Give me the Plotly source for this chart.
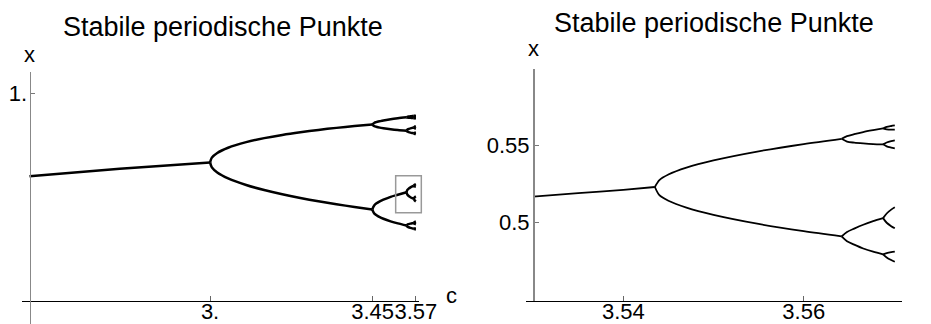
import plotly.graph_objects as go

# ---------------- data ----------------
# Left panel: whole cascade, c in [2.5, 3.57]
L_FIX_C = [2.5, 2.75, 3.0]
L_FIX_X = [0.6, 0.6364, 0.6667]

L_P2_C = [3.0, 3.005, 3.02, 3.05, 3.1, 3.15, 3.2, 3.25, 3.3, 3.35, 3.4, 3.449]
L_P2_X = [
    [0.6667, 0.6899, 0.7125, 0.7377, 0.7646, 0.7840, 0.7995, 0.8124, 0.8236, 0.8334, 0.8422, 0.8499],
    [0.6667, 0.6429, 0.6186, 0.5902, 0.5580, 0.5335, 0.5130, 0.4953, 0.4794, 0.4651, 0.4520, 0.4400],
]

L_P4_C = [3.449, 3.455, 3.46, 3.47, 3.48, 3.5, 3.52, 3.5441]
L_P4_X = [
    [0.8499, 0.8581, 0.8611, 0.8654, 0.8694, 0.8750, 0.8796, 0.8843],
    [0.8499, 0.8417, 0.8389, 0.8346, 0.8317, 0.8269, 0.8230, 0.8195],
    [0.4400, 0.4602, 0.4684, 0.4790, 0.4871, 0.5009, 0.5110, 0.5232],
    [0.4400, 0.4198, 0.4136, 0.4027, 0.3951, 0.3828, 0.3728, 0.3628],
]

L_P8_C = [3.5441, 3.546, 3.55, 3.555, 3.56, 3.5644]
L_P8_X = [
    [0.8843, 0.8863, 0.8878, 0.8891, 0.8901, 0.8908],
    [0.8843, 0.8832, 0.8823, 0.8816, 0.8810, 0.8806],
    [0.8195, 0.8243, 0.8280, 0.8310, 0.8334, 0.8352],
    [0.8195, 0.8158, 0.8130, 0.8106, 0.8088, 0.8074],
    [0.5232, 0.5331, 0.5403, 0.5462, 0.5509, 0.5543],
    [0.5232, 0.5125, 0.5048, 0.4990, 0.4943, 0.4905],
    [0.3628, 0.3665, 0.3693, 0.3716, 0.3734, 0.3748],
    [0.3628, 0.3579, 0.3542, 0.3511, 0.3486, 0.3468],
]

L_P16_C = [3.5644, 3.5665, 3.57]
L_P16_X = [
    [0.8908, 0.8917, 0.8923], [0.8908, 0.8899, 0.8893],
    [0.8806, 0.8821, 0.8831], [0.8806, 0.8791, 0.8781],
    [0.8352, 0.8388, 0.8412], [0.8352, 0.8316, 0.8292],
    [0.8074, 0.8098, 0.8114], [0.8074, 0.8050, 0.8034],
    [0.5543, 0.5588, 0.5623], [0.5543, 0.5515, 0.5509],
    [0.4905, 0.4990, 0.5032], [0.4905, 0.4840, 0.4790],
    [0.3748, 0.3790, 0.3818], [0.3748, 0.3706, 0.3678],
    [0.3468, 0.3486, 0.3498], [0.3468, 0.3450, 0.3438],
]

# zoom box drawn in the left panel (c0, c1, x0, x1)
ZOOM_BOX = [3.514, 3.585, 0.424, 0.603]

# Right panel: zoom c in [3.53, 3.57], x in [0.45, 0.6]
R_P4_C = [3.53, 3.535, 3.54, 3.5435]
R_P4_X = [[0.5170, 0.5192, 0.5214, 0.5232]]

R_P8_C = [3.5435, 3.544, 3.545, 3.547, 3.55, 3.555, 3.56, 3.5642]
R_P8_X = [
    [0.5232, 0.5277, 0.5313, 0.5358, 0.5405, 0.5464, 0.5511, 0.5545],
    [0.5232, 0.5179, 0.5143, 0.5098, 0.5051, 0.4992, 0.4945, 0.4911],
]

R_P16_C = [3.5642, 3.5648, 3.5656, 3.5666, 3.5677, 3.5688]
R_P16_X = [
    [0.5545, 0.5562, 0.5575, 0.5589, 0.5601, 0.5612],
    [0.5545, 0.5527, 0.5520, 0.5515, 0.5511, 0.5509],
    [0.4911, 0.4940, 0.4962, 0.4987, 0.5010, 0.5030],
    [0.4911, 0.4880, 0.4858, 0.4833, 0.4812, 0.4795],
]

R_P32_C = [3.5688, 3.5692, 3.5697, 3.5701]
R_P32_X = [
    [0.5612, 0.5622, 0.5628, 0.5632], [0.5612, 0.5606, 0.5604, 0.5605],
    [0.5509, 0.5521, 0.5530, 0.5535], [0.5509, 0.5496, 0.5488, 0.5483],
    [0.5030, 0.5060, 0.5085, 0.5100], [0.5030, 0.5000, 0.4978, 0.4964],
    [0.4795, 0.4803, 0.4809, 0.4812], [0.4795, 0.4775, 0.4758, 0.4747],
]

L_XTICKS = [3.0, 3.45, 3.57]
L_XTICKTEXT = ["3.", "3.45", "3.57"]
L_YTICKS = [1.0]
L_YTICKTEXT = ["1."]
R_XTICKS = [3.54, 3.56]
R_XTICKTEXT = ["3.54", "3.56"]
R_YTICKS = [0.5, 0.55]
R_YTICKTEXT = ["0.5", "0.55"]

TITLE = "Stabile periodische Punkte"

# ---------------- layout constants ----------------
# the page body has an 8px margin, so the figure is drawn 8px in from the corner
OFF = 8
FW, FH = 931 - OFF, 324 - OFF
FONT = "Liberation Sans, Arial, Helvetica, sans-serif"


def px_x(X):
    return (X - OFF) / FW


def px_y(Y):
    return 1 - (Y - OFF) / FH


L_XDOM = [px_x(22), px_x(419)]
L_XRANGE = [2.4793, 3.5786]
L_YDOM = [0.0, px_y(72)]
L_YRANGE = [-0.1123, 1.1028]
L_XAXIS_POS = px_y(300.7)
L_YAXIS_POS = px_x(29.5)

R_XDOM = [px_x(525.7), px_x(901.7)]
R_XRANGE = [3.52918, 3.570865]
R_YDOM = [px_y(300.7), px_y(69)]
R_YRANGE = [0.4494, 0.5998]
R_YAXIS_POS = px_x(533)

fig = go.Figure()


def add_group(cs, xs_list, xa, ya, width):
    for xs in xs_list:
        fig.add_trace(go.Scatter(
            x=cs, y=xs, xaxis=xa, yaxis=ya, mode="lines",
            line=dict(color="black", width=width, shape="spline", smoothing=0.8),
            hoverinfo="skip", showlegend=False))


LW_L = 2.5
add_group(L_FIX_C, [L_FIX_X], "x", "y", LW_L)
add_group(L_P2_C, L_P2_X, "x", "y", LW_L)
add_group(L_P4_C, L_P4_X, "x", "y", LW_L)
add_group(L_P8_C, L_P8_X, "x", "y", LW_L)
add_group(L_P16_C, L_P16_X, "x", "y", LW_L)

LW_R = 1.8
add_group(R_P4_C, R_P4_X, "x2", "y2", LW_R)
add_group(R_P8_C, R_P8_X, "x2", "y2", LW_R)
add_group(R_P16_C, R_P16_X, "x2", "y2", LW_R)
add_group(R_P32_C, R_P32_X, "x2", "y2", LW_R)


# zoom rectangle (in domain fractions so it is not clipped at the axis end)
def to_dom(v, rng):
    return (v - rng[0]) / (rng[1] - rng[0])


fig.add_shape(type="rect", xref="x domain", yref="y domain",
              x0=to_dom(ZOOM_BOX[0], L_XRANGE), x1=to_dom(ZOOM_BOX[1], L_XRANGE),
              y0=to_dom(ZOOM_BOX[2], L_YRANGE), y1=to_dom(ZOOM_BOX[3], L_YRANGE),
              line=dict(color="#999999", width=1.5), fillcolor="rgba(0,0,0,0)")

tickfont = dict(family=FONT, size=22, color="black")
common = dict(showgrid=False, zeroline=False, showline=True, ticks="inside",
              tickfont=tickfont, fixedrange=True, tickangle=0, automargin=False)

fig.update_layout(
    width=FW, height=FH, margin=dict(l=0, r=0, t=0, b=0, pad=0, autoexpand=False),
    paper_bgcolor="white", plot_bgcolor="white", showlegend=False,
    hovermode=False,
    xaxis=dict(domain=L_XDOM, range=L_XRANGE, anchor="free", position=L_XAXIS_POS,
               tickvals=L_XTICKS, ticktext=L_XTICKTEXT, linecolor="black", linewidth=1,
               ticklen=5, tickcolor="#666666", tickwidth=1, ticklabelstandoff=-9, **common),
    yaxis=dict(domain=L_YDOM, range=L_YRANGE, anchor="free", position=L_YAXIS_POS,
               tickvals=L_YTICKS, ticktext=L_YTICKTEXT, linecolor="#888888", linewidth=1.5,
               ticklen=4, tickcolor="#777777", tickwidth=1, ticklabelstandoff=-2, **common),
    xaxis2=dict(domain=R_XDOM, range=R_XRANGE, anchor="y2",
                tickvals=R_XTICKS, ticktext=R_XTICKTEXT, linecolor="black", linewidth=1,
                ticklen=5, tickcolor="#666666", tickwidth=1, ticklabelstandoff=-9, **common),
    yaxis2=dict(domain=R_YDOM, range=R_YRANGE, anchor="free", position=R_YAXIS_POS,
                tickvals=R_YTICKS, ticktext=R_YTICKTEXT, linecolor="#888888", linewidth=1.5,
                ticklen=4, tickcolor="#777777", tickwidth=1, ticklabelstandoff=-1, **common),
)

ann_font = dict(family=FONT, size=22, color="black")
title_font = dict(family=FONT, size=27, color="black")
annotations = [
    dict(text=TITLE, x=px_x(222.5), y=px_y(27), font=title_font),
    dict(text=TITLE, x=px_x(713.7), y=px_y(23.3), font=title_font),
    dict(text="x", x=px_x(29.5), y=px_y(54), font=ann_font),
    dict(text="x", x=px_x(533.3), y=px_y(48.5), font=ann_font),
    dict(text="c", x=px_x(451.7), y=px_y(295), font=ann_font),
    dict(text="c", x=px_x(928), y=px_y(297.5), font=ann_font),
]
for a in annotations:
    fig.add_annotation(xref="paper", yref="paper", xanchor="center", yanchor="middle",
                       showarrow=False, **a)

fig.write_html("out.html", config={"displayModeBar": False, "staticPlot": True})
